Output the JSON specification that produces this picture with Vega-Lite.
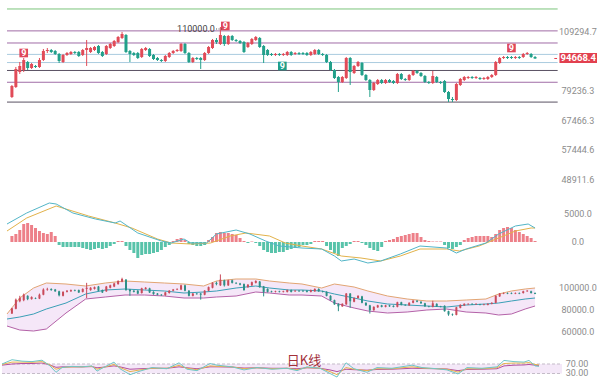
{
"$schema": "https://vega.github.io/schema/vega-lite/v6.json",
"background": "#ffffff",
"padding": 0,
"spacing": 0,
"config": {
  "view": {"stroke": null},
  "concat": {"spacing": 0},
  "axis": {"domain": false, "ticks": false, "gridColor": "#f1f1f1"},
  "axisX": {"minExtent": 0, "maxExtent": 0}
},
"datasets": {
  "k": [
{"i":0,"o":76797,"c":81527,"h":81971,"l":76380,"m":1080},
{"i":1,"o":81085,"c":89418,"h":90395,"l":80646,"m":1440},
{"i":2,"o":87972,"c":90888,"h":92885,"l":87021,"m":2160},
{"i":3,"o":88933,"c":93900,"h":94926,"l":87972,"m":3240},
{"i":4,"o":92885,"c":89905,"h":93391,"l":88933,"m":3420},
{"i":5,"o":89905,"c":91881,"h":92381,"l":89418,"m":3060},
{"i":6,"o":90888,"c":90395,"h":91383,"l":89905,"m":2520},
{"i":7,"o":90395,"c":93900,"h":94926,"l":89905,"m":1980},
{"i":8,"o":93900,"c":98607,"h":99684,"l":93391,"m":1620},
{"i":9,"o":98607,"c":99144,"h":100227,"l":97541,"m":1440},
{"i":10,"o":99144,"c":98072,"h":99684,"l":97541,"m":1800},
{"i":11,"o":98607,"c":97012,"h":99144,"l":96486,"m":1080},
{"i":12,"o":97012,"c":93391,"h":97541,"l":92381,"m":-540},
{"i":13,"o":92885,"c":96486,"h":97012,"l":92381,"m":-900},
{"i":14,"o":96486,"c":97541,"h":98072,"l":95963,"m":-900},
{"i":15,"o":97012,"c":98072,"h":98607,"l":96486,"m":-900},
{"i":16,"o":98072,"c":97541,"h":98607,"l":97012,"m":-900},
{"i":17,"o":98072,"c":95963,"h":98607,"l":95443,"m":-900},
{"i":18,"o":96486,"c":99144,"h":99684,"l":95963,"m":-1080},
{"i":19,"o":99144,"c":100227,"h":104681,"l":90888,"m":-1260},
{"i":20,"o":98072,"c":100227,"h":100774,"l":97541,"m":-1440},
{"i":21,"o":99144,"c":100774,"h":101323,"l":98607,"m":-1260},
{"i":22,"o":101323,"c":97541,"h":101875,"l":97012,"m":-1080},
{"i":23,"o":98072,"c":95963,"h":98607,"l":95443,"m":-1260},
{"i":24,"o":97012,"c":101323,"h":101875,"l":96486,"m":-1080},
{"i":25,"o":100227,"c":102430,"h":102988,"l":99684,"m":-720},
{"i":26,"o":101323,"c":104114,"h":104681,"l":100774,"m":-360},
{"i":27,"o":103549,"c":106401,"h":106981,"l":102988,"m":180},
{"i":28,"o":105825,"c":108150,"h":109332,"l":105251,"m":180},
{"i":29,"o":107564,"c":98072,"h":108150,"l":97541,"m":-720},
{"i":30,"o":98607,"c":97012,"h":99144,"l":92885,"m":-1440},
{"i":31,"o":97541,"c":96486,"h":98072,"l":95963,"m":-1980},
{"i":32,"o":97541,"c":94926,"h":98072,"l":94411,"m":-2880},
{"i":33,"o":95443,"c":99684,"h":100227,"l":94926,"m":-2340},
{"i":34,"o":99144,"c":100227,"h":100774,"l":98607,"m":-2160},
{"i":35,"o":99684,"c":95963,"h":100227,"l":95443,"m":-2160},
{"i":36,"o":96486,"c":94411,"h":97012,"l":93900,"m":-1980},
{"i":37,"o":94926,"c":93900,"h":95443,"l":93391,"m":-1800},
{"i":38,"o":93900,"c":93391,"h":94411,"l":92885,"m":-1440},
{"i":39,"o":93391,"c":95963,"h":96486,"l":92885,"m":-900},
{"i":40,"o":95443,"c":97541,"h":98072,"l":94926,"m":-540},
{"i":41,"o":97541,"c":98607,"h":99144,"l":97012,"m":180},
{"i":42,"o":98607,"c":99144,"h":99684,"l":98072,"m":540},
{"i":43,"o":98607,"c":102430,"h":102988,"l":98072,"m":720},
{"i":44,"o":102430,"c":97541,"h":102988,"l":97012,"m":360},
{"i":45,"o":97541,"c":92885,"h":98072,"l":92381,"m":-360},
{"i":46,"o":92885,"c":94926,"h":95443,"l":92381,"m":-540},
{"i":47,"o":94926,"c":94411,"h":95443,"l":93900,"m":-720},
{"i":48,"o":94926,"c":93900,"h":95443,"l":89418,"m":-720},
{"i":49,"o":93900,"c":97541,"h":98072,"l":93391,"m":-540},
{"i":50,"o":97541,"c":100774,"h":101323,"l":97012,"m":360},
{"i":51,"o":100227,"c":104681,"h":105251,"l":99684,"m":900},
{"i":52,"o":104681,"c":103549,"h":105825,"l":102430,"m":1620},
{"i":53,"o":102430,"c":107564,"h":112344,"l":101875,"m":1800},
{"i":54,"o":106981,"c":102430,"h":107564,"l":101323,"m":1620},
{"i":55,"o":102430,"c":106981,"h":107564,"l":101875,"m":1620},
{"i":56,"o":106981,"c":104681,"h":107564,"l":104114,"m":1440},
{"i":57,"o":104681,"c":104114,"h":105251,"l":103549,"m":1260},
{"i":58,"o":104114,"c":102988,"h":104681,"l":102430,"m":720},
{"i":59,"o":103549,"c":98072,"h":104114,"l":97541,"m":180},
{"i":60,"o":100774,"c":102988,"h":103549,"l":100227,"m":-180},
{"i":61,"o":102430,"c":105251,"h":105825,"l":101875,"m":90},
{"i":62,"o":104681,"c":106401,"h":106981,"l":104114,"m":-180},
{"i":63,"o":105825,"c":100774,"h":106401,"l":100227,"m":-720},
{"i":64,"o":101323,"c":96486,"h":101875,"l":92381,"m":-1440},
{"i":65,"o":99144,"c":96486,"h":99684,"l":95963,"m":-1800},
{"i":66,"o":97012,"c":96486,"h":97541,"l":95963,"m":-1980},
{"i":67,"o":96486,"c":97012,"h":97541,"l":95963,"m":-1980},
{"i":68,"o":97012,"c":96486,"h":97541,"l":95963,"m":-1800},
{"i":69,"o":96486,"c":97012,"h":97541,"l":95963,"m":-1800},
{"i":70,"o":96486,"c":98072,"h":98607,"l":95963,"m":-1440},
{"i":71,"o":98072,"c":96486,"h":98607,"l":95963,"m":-1260},
{"i":72,"o":97012,"c":97541,"h":98072,"l":96486,"m":-1080},
{"i":73,"o":97541,"c":97012,"h":98072,"l":96486,"m":-900},
{"i":74,"o":97541,"c":97012,"h":98072,"l":96486,"m":-540},
{"i":75,"o":97541,"c":96486,"h":98072,"l":95963,"m":-540},
{"i":76,"o":96486,"c":98072,"h":98607,"l":95963,"m":-360},
{"i":77,"o":97012,"c":99144,"h":99684,"l":96486,"m":180},
{"i":78,"o":99144,"c":97012,"h":99684,"l":96486,"m":180},
{"i":79,"o":97012,"c":96486,"h":97541,"l":95963,"m":180},
{"i":80,"o":96486,"c":92885,"h":97012,"l":92381,"m":-720},
{"i":81,"o":92885,"c":88933,"h":93391,"l":88451,"m":-1440},
{"i":82,"o":88933,"c":85150,"h":89418,"l":84688,"m":-1980},
{"i":83,"o":85614,"c":83319,"h":86080,"l":78912,"m":-2520},
{"i":84,"o":83319,"c":85614,"h":86080,"l":82867,"m":-1080},
{"i":85,"o":85150,"c":94926,"h":95443,"l":84688,"m":-720},
{"i":86,"o":94926,"c":87972,"h":95443,"l":81971,"m":-360},
{"i":87,"o":87495,"c":90888,"h":91383,"l":87021,"m":180},
{"i":88,"o":90888,"c":92885,"h":93391,"l":90395,"m":180},
{"i":89,"o":92381,"c":86549,"h":92885,"l":86080,"m":-180},
{"i":90,"o":86549,"c":84229,"h":87021,"l":83773,"m":-540},
{"i":91,"o":84229,"c":79774,"h":84688,"l":76797,"m":-1080},
{"i":92,"o":79774,"c":82867,"h":83319,"l":79342,"m":-1440},
{"i":93,"o":82418,"c":84229,"h":84688,"l":81971,"m":-1620},
{"i":94,"o":84229,"c":82867,"h":84688,"l":82418,"m":-900},
{"i":95,"o":82867,"c":84229,"h":84688,"l":82418,"m":180},
{"i":96,"o":84229,"c":83319,"h":84688,"l":82867,"m":360},
{"i":97,"o":83773,"c":82867,"h":84229,"l":82418,"m":540},
{"i":98,"o":82867,"c":87021,"h":87495,"l":82418,"m":900},
{"i":99,"o":87021,"c":84688,"h":87495,"l":84229,"m":1080},
{"i":100,"o":84688,"c":84229,"h":85150,"l":83773,"m":1260},
{"i":101,"o":84229,"c":86549,"h":87021,"l":83773,"m":1440},
{"i":102,"o":86549,"c":88451,"h":88933,"l":86080,"m":1620},
{"i":103,"o":88451,"c":87495,"h":88933,"l":87021,"m":1620},
{"i":104,"o":87495,"c":86080,"h":87972,"l":85614,"m":900},
{"i":105,"o":86080,"c":83319,"h":86549,"l":82867,"m":360},
{"i":106,"o":83319,"c":82867,"h":83773,"l":82418,"m":180},
{"i":107,"o":82867,"c":86080,"h":88451,"l":82418,"m":90},
{"i":108,"o":85614,"c":83319,"h":86080,"l":82867,"m":90},
{"i":109,"o":83319,"c":82867,"h":83773,"l":82418,"m":90},
{"i":110,"o":83773,"c":78912,"h":84229,"l":78484,"m":-540},
{"i":111,"o":78912,"c":75966,"h":79342,"l":74738,"m":-1080},
{"i":112,"o":75966,"c":75555,"h":76797,"l":74738,"m":-1260},
{"i":113,"o":75555,"c":82418,"h":82867,"l":75145,"m":-900},
{"i":114,"o":81971,"c":84688,"h":85150,"l":81527,"m":-540},
{"i":115,"o":84229,"c":85614,"h":86080,"l":83773,"m":360},
{"i":116,"o":85150,"c":85614,"h":86080,"l":84688,"m":720},
{"i":117,"o":85614,"c":85150,"h":86080,"l":84688,"m":900},
{"i":118,"o":85150,"c":85614,"h":86080,"l":84688,"m":1080},
{"i":119,"o":85150,"c":84688,"h":85614,"l":84229,"m":1080},
{"i":120,"o":84688,"c":85150,"h":85614,"l":84229,"m":1080},
{"i":121,"o":84688,"c":85614,"h":86080,"l":84229,"m":1080},
{"i":122,"o":85614,"c":86549,"h":87021,"l":85150,"m":900},
{"i":123,"o":86549,"c":92885,"h":93391,"l":86080,"m":1440},
{"i":124,"o":92381,"c":94926,"h":95443,"l":91881,"m":2160},
{"i":125,"o":94926,"c":95443,"h":95963,"l":94411,"m":2520},
{"i":126,"o":95443,"c":94926,"h":95963,"l":94411,"m":2700},
{"i":127,"o":95443,"c":94926,"h":95963,"l":94411,"m":2520},
{"i":128,"o":94926,"c":95443,"h":95963,"l":94411,"m":2160},
{"i":129,"o":95443,"c":94926,"h":95963,"l":94411,"m":1800},
{"i":130,"o":95443,"c":97012,"h":97541,"l":94926,"m":1440},
{"i":131,"o":97012,"c":97541,"h":98072,"l":96486,"m":1080},
{"i":132,"o":97012,"c":95443,"h":97541,"l":94926,"m":720},
{"i":133,"o":95443,"c":94668.4,"h":95963,"l":94411,"m":180}
  ],
  "lv": [
{"p":123900,"n":"L1"},{"p":110000,"n":"L2"},{"p":102988,"n":"L3"},{"p":96800,"n":"L4"},
{"p":92600,"n":"L5"},{"p":88700,"n":"L6"},{"p":83200,"n":"L7"},{"p":74700,"n":"L8"}
  ],
  "td": [
{"i":3,"p":97541,"t":"r"},{"i":54.25,"p":112956,"t":"r"},{"i":68.75,"p":90888,"t":"g"},{"i":127,"p":100227,"t":"r"}
  ],
  "ml": [
{"i":-1.25,"v":3240,"s":"DIF"},{"i":3.75,"v":5220,"s":"DIF"},{"i":9.5,"v":7020,"s":"DIF"},{"i":11.25,"v":6840,"s":"DIF"},
{"i":15.5,"v":5220,"s":"DIF"},{"i":21.25,"v":4140,"s":"DIF"},{"i":26.25,"v":3420,"s":"DIF"},{"i":27.5,"v":3780,"s":"DIF"},
{"i":32,"v":1620,"s":"DIF"},{"i":38,"v":180,"s":"DIF"},{"i":40.5,"v":-180,"s":"DIF"},{"i":43.75,"v":540,"s":"DIF"},
{"i":45.5,"v":-180,"s":"DIF"},{"i":49.5,"v":-180,"s":"DIF"},{"i":52,"v":1440,"s":"DIF"},{"i":57,"v":2160,"s":"DIF"},
{"i":60.5,"v":1440,"s":"DIF"},{"i":64.5,"v":180,"s":"DIF"},{"i":68,"v":-720,"s":"DIF"},{"i":73.75,"v":-1080,"s":"DIF"},
{"i":78.75,"v":-1260,"s":"DIF"},{"i":82,"v":-2520,"s":"DIF"},{"i":83.75,"v":-3420,"s":"DIF"},{"i":87,"v":-3060,"s":"DIF"},
{"i":90.5,"v":-3780,"s":"DIF"},{"i":93.75,"v":-3420,"s":"DIF"},{"i":98.75,"v":-2160,"s":"DIF"},{"i":103.75,"v":-720,"s":"DIF"},
{"i":110.5,"v":-1080,"s":"DIF"},{"i":113,"v":-1980,"s":"DIF"},{"i":115.5,"v":-1260,"s":"DIF"},{"i":120.5,"v":-180,"s":"DIF"},
{"i":123.75,"v":1440,"s":"DIF"},{"i":128,"v":2880,"s":"DIF"},{"i":131.25,"v":3240,"s":"DIF"},{"i":133,"v":2520,"s":"DIF"},
{"i":-1.25,"v":1980,"s":"DEA"},{"i":3.75,"v":4320,"s":"DEA"},{"i":11.25,"v":6480,"s":"DEA"},{"i":19.5,"v":4680,"s":"DEA"},
{"i":26.25,"v":3420,"s":"DEA"},{"i":30.5,"v":2520,"s":"DEA"},{"i":37,"v":540,"s":"DEA"},{"i":40.5,"v":-180,"s":"DEA"},
{"i":45.5,"v":-360,"s":"DEA"},{"i":50.5,"v":-180,"s":"DEA"},{"i":55.5,"v":1080,"s":"DEA"},{"i":59.5,"v":1620,"s":"DEA"},
{"i":65.5,"v":1080,"s":"DEA"},{"i":69.5,"v":-180,"s":"DEA"},{"i":73.75,"v":-720,"s":"DEA"},{"i":78.75,"v":-1260,"s":"DEA"},
{"i":83.75,"v":-2520,"s":"DEA"},{"i":88.75,"v":-2880,"s":"DEA"},{"i":93.75,"v":-3420,"s":"DEA"},{"i":98.75,"v":-2520,"s":"DEA"},
{"i":103.75,"v":-1260,"s":"DEA"},{"i":110.5,"v":-1260,"s":"DEA"},{"i":113.75,"v":-1620,"s":"DEA"},{"i":118.75,"v":-720,"s":"DEA"},
{"i":123.75,"v":720,"s":"DEA"},{"i":128,"v":1980,"s":"DEA"},{"i":132,"v":2520,"s":"DEA"},{"i":133,"v":2520,"s":"DEA"}
  ],
  "bb": [
{"i":-1.25,"up":76364,"mid":71818,"lo":65455},
{"i":2,"up":90909,"mid":73636,"lo":61818},
{"i":5.5,"up":100000,"mid":76364,"lo":60909},
{"i":8.75,"up":104545,"mid":80909,"lo":62727},
{"i":13.75,"up":103636,"mid":86364,"lo":77273},
{"i":18.75,"up":101818,"mid":94545,"lo":90000},
{"i":23.75,"up":104545,"mid":98182,"lo":91818},
{"i":28.75,"up":106364,"mid":99091,"lo":93636},
{"i":33.75,"up":105455,"mid":98182,"lo":93636},
{"i":38.75,"up":104545,"mid":97273,"lo":92727},
{"i":43.75,"up":103636,"mid":95455,"lo":90909},
{"i":48.75,"up":101818,"mid":96364,"lo":90909},
{"i":52,"up":106364,"mid":97273,"lo":91818},
{"i":57,"up":108182,"mid":100000,"lo":92727},
{"i":62,"up":108182,"mid":101818,"lo":96364},
{"i":65.5,"up":106364,"mid":100000,"lo":95455},
{"i":70.5,"up":104545,"mid":98182,"lo":93636},
{"i":73.75,"up":103636,"mid":98182,"lo":93636},
{"i":78.75,"up":100000,"mid":97273,"lo":92727},
{"i":82,"up":103636,"mid":94545,"lo":86364},
{"i":87,"up":100909,"mid":90909,"lo":81818},
{"i":90.5,"up":97273,"mid":88182,"lo":79091},
{"i":95.5,"up":92727,"mid":85455,"lo":77273},
{"i":100.5,"up":90000,"mid":84545,"lo":78182},
{"i":105.5,"up":88182,"mid":83636,"lo":80000},
{"i":110.5,"up":88182,"mid":82727,"lo":80909},
{"i":115.5,"up":89091,"mid":84545,"lo":78182},
{"i":120.5,"up":90000,"mid":85455,"lo":77273},
{"i":123.75,"up":94545,"mid":86364,"lo":75455},
{"i":127,"up":97273,"mid":88182,"lo":76364},
{"i":130.5,"up":99091,"mid":90000,"lo":80909},
{"i":133,"up":100000,"mid":90909,"lo":83636}
  ],
  "rsi": [
{"i":-1.25,"a":70,"b":68,"c":65},{"i":1.25,"a":88,"b":78,"c":70},{"i":3.75,"a":82,"b":78,"c":72},{"i":6.25,"a":80,"b":77,"c":72},
{"i":8.75,"a":86,"b":80,"c":74},{"i":10.75,"a":62,"b":66,"c":66},{"i":12.25,"a":35,"b":48,"c":56},{"i":13.75,"a":55,"b":55,"c":58},
{"i":16.25,"a":60,"b":58,"c":58},{"i":18.75,"a":58,"b":58,"c":58},{"i":21.25,"a":62,"b":60,"c":59},{"i":22.5,"a":40,"b":48,"c":54},
{"i":23.75,"a":52,"b":54,"c":56},{"i":26.75,"a":78,"b":68,"c":62},{"i":28.25,"a":50,"b":55,"c":58},{"i":30.75,"a":25,"b":38,"c":48},
{"i":33.25,"a":40,"b":45,"c":50},{"i":36.25,"a":55,"b":52,"c":52},{"i":40,"a":50,"b":52,"c":52},{"i":43,"a":75,"b":64,"c":58},
{"i":45,"a":48,"b":52,"c":54},{"i":47.5,"a":42,"b":46,"c":50},{"i":50.75,"a":72,"b":62,"c":58},{"i":52.5,"a":65,"b":60,"c":58},
{"i":56.25,"a":58,"b":58,"c":57},{"i":59.25,"a":45,"b":50,"c":53},{"i":62.5,"a":55,"b":54,"c":54},{"i":66.25,"a":48,"b":50,"c":52},
{"i":70,"a":52,"b":52,"c":52},{"i":72.5,"a":42,"b":46,"c":50},{"i":75,"a":58,"b":55,"c":54},{"i":78.25,"a":52,"b":52,"c":52},
{"i":80.75,"a":30,"b":38,"c":45},{"i":82.5,"a":15,"b":25,"c":38},{"i":84.75,"a":75,"b":55,"c":48},{"i":86.75,"a":50,"b":48,"c":46},
{"i":90,"a":35,"b":42,"c":44},{"i":92.5,"a":55,"b":50,"c":47},{"i":96.25,"a":52,"b":50,"c":48},{"i":101.25,"a":65,"b":58,"c":52},
{"i":103.75,"a":55,"b":53,"c":51},{"i":107.5,"a":50,"b":50,"c":50},{"i":110,"a":45,"b":48,"c":49},{"i":112.75,"a":28,"b":36,"c":42},
{"i":115,"a":55,"b":50,"c":47},{"i":118.75,"a":52,"b":50,"c":48},{"i":122.5,"a":58,"b":54,"c":50},{"i":124.25,"a":85,"b":72,"c":62},
{"i":126.75,"a":80,"b":74,"c":65},{"i":129.25,"a":78,"b":74,"c":66},{"i":130.5,"a":85,"b":76,"c":68},{"i":132,"a":62,"b":68,"c":65},
{"i":133,"a":60,"b":66,"c":64}
  ],
  "tk1": [{"v": 48911.6}, {"v": 57444.6}, {"v": 67466.3}, {"v": 79236.3}, {"v": 109294.7}],
  "tk2": [{"v": 0}, {"v": 5000}],
  "tk3": [{"v": 60000}, {"v": 80000}, {"v": 100000}],
  "tk4": [{"v": 30}, {"v": 70}],
  "one": [{"t": "x"}]
},
"vconcat": [
{
  "width": 600, "height": 185,
  "layer": [
    {"data": {"name": "lv"}, "mark": {"type": "rule", "strokeWidth": 1},
     "encoding": {
       "x": {"datum": -1.25, "type": "quantitative", "scale": {"domain": [-1.25, 148.75], "nice": false, "zero": false},
             "axis": {"values": [15.75, 39.25, 62.5, 83.75, 107, 130.5], "labels": false, "grid": true, "orient": "bottom", "title": null}},
       "x2": {"datum": 138.75},
       "y": {"field": "p", "type": "quantitative", "scale": {"type": "log", "domain": [47601, 130100], "nice": false, "zero": false}, "axis": null},
       "color": {"condition": [
           {"test": "datum.n == 'L1'", "value": "#7cc47c"},
           {"test": "datum.n == 'L4' || datum.n == 'L5'", "value": "#a9cbdf"},
           {"test": "datum.n == 'L6' || datum.n == 'L8'", "value": "#5a5263"}
         ], "value": "#a06ca6"}
     }},
    {"data": {"name": "tk1"},
     "mark": {"type": "text", "font": "Roboto", "fontSize": 9, "color": "#8c8c8c", "align": "center", "baseline": "middle"},
     "encoding": {
       "x": {"datum": 143.9, "type": "quantitative"},
       "y": {"field": "v", "type": "quantitative", "axis": null},
       "text": {"field": "v", "type": "quantitative", "format": ".1f"}
     }},
    {"data": {"name": "k"}, "mark": {"type": "rule", "strokeWidth": 1},
     "encoding": {
       "x": {"field": "i", "type": "quantitative", "axis": null},
       "y": {"field": "l", "type": "quantitative", "axis": null},
       "y2": {"field": "h"},
       "color": {"condition": {"test": "datum.c >= datum.o", "value": "#e14b58"}, "value": "#22a08a"}
     }},
    {"data": {"name": "k"}, "mark": {"type": "bar", "size": 3},
     "encoding": {
       "x": {"field": "i", "type": "quantitative", "axis": null},
       "y": {"field": "o", "type": "quantitative", "axis": null},
       "y2": {"field": "c"},
       "color": {"condition": {"test": "datum.c >= datum.o", "value": "#e14b58"}, "value": "#22a08a"}
     }},
    {"data": {"name": "td"}, "mark": {"type": "point", "shape": "square", "filled": true, "size": 75, "opacity": 1},
     "encoding": {
       "x": {"field": "i", "type": "quantitative", "axis": null},
       "y": {"field": "p", "type": "quantitative", "axis": null},
       "color": {"condition": {"test": "datum.t == 'r'", "value": "#e0475a"}, "value": "#1f9e89"}
     }},
    {"data": {"name": "td"}, "mark": {"type": "text", "color": "#ffffff", "fontSize": 9, "fontWeight": "bold", "font": "Roboto", "baseline": "middle"},
     "encoding": {
       "x": {"field": "i", "type": "quantitative", "axis": null},
       "y": {"field": "p", "type": "quantitative", "axis": null},
       "text": {"value": "9"}
     }},
    {"data": {"name": "one"}, "mark": {"type": "text", "align": "right", "baseline": "middle", "fontSize": 9, "font": "Roboto", "color": "#444444"},
     "encoding": {
       "x": {"datum": 51.6, "type": "quantitative"},
       "y": {"datum": 111129, "type": "quantitative"},
       "text": {"value": "110000.0"}
     }},
    {"data": {"name": "one"}, "mark": {"type": "rule", "strokeDash": [1, 1.5], "color": "#555555", "strokeWidth": 1},
     "encoding": {
       "x": {"datum": 51.9, "type": "quantitative"},
       "x2": {"datum": 53.4},
       "y": {"datum": 111129, "type": "quantitative"}
     }},
    {"data": {"name": "one"}, "mark": {"type": "rule", "color": "#e2404f", "strokeWidth": 1},
     "encoding": {
       "x": {"datum": 137.9, "type": "quantitative"},
       "x2": {"datum": 138.6},
       "y": {"datum": 94668.4, "type": "quantitative"}
     }},
    {"data": {"name": "one"}, "mark": {"type": "rect", "color": "#e2404f"},
     "encoding": {
       "x": {"datum": 139.2, "type": "quantitative"},
       "x2": {"datum": 148.75},
       "y": {"datum": 97541, "type": "quantitative"},
       "y2": {"datum": 92381}
     }},
    {"data": {"name": "one"}, "mark": {"type": "text", "color": "#ffffff", "fontSize": 9.5, "fontWeight": "bold", "font": "Roboto", "baseline": "middle", "align": "center"},
     "encoding": {
       "x": {"datum": 144, "type": "quantitative"},
       "y": {"datum": 94668.4, "type": "quantitative"},
       "text": {"value": "94668.4"}
     }}
  ]
},
{
  "width": 600, "height": 80,
  "layer": [
    {"data": {"name": "k"}, "mark": {"type": "bar", "size": 3, "opacity": 0.85},
     "encoding": {
       "x": {"field": "i", "type": "quantitative", "scale": {"domain": [-1.25, 148.75], "nice": false, "zero": false},
             "axis": {"values": [15.75, 39.25, 62.5, 83.75, 107, 130.5], "labels": false, "grid": true, "orient": "bottom", "title": null}},
       "y": {"field": "m", "type": "quantitative", "scale": {"domain": [-4320, 10080], "nice": false, "zero": false}, "axis": null},
       "y2": {"datum": 0},
       "color": {"condition": {"test": "datum.m >= 0", "value": "#ea6a74"}, "value": "#3bb99b"}
     }},
    {"data": {"name": "tk2"},
     "mark": {"type": "text", "font": "Roboto", "fontSize": 9, "color": "#8c8c8c", "align": "center", "baseline": "middle"},
     "encoding": {
       "x": {"datum": 143.9, "type": "quantitative"},
       "y": {"field": "v", "type": "quantitative", "axis": null},
       "text": {"field": "v", "type": "quantitative", "format": ".1f"}
     }},
    {"data": {"name": "ml"}, "transform": [{"filter": "datum.s == 'DEA'"}], "mark": {"type": "line", "strokeWidth": 1, "color": "#e2b24a"},
     "encoding": {
       "x": {"field": "i", "type": "quantitative", "axis": null},
       "y": {"field": "v", "type": "quantitative", "axis": null}
     }},
    {"data": {"name": "ml"}, "transform": [{"filter": "datum.s == 'DIF'"}], "mark": {"type": "line", "strokeWidth": 1, "color": "#52b5c7"},
     "encoding": {
       "x": {"field": "i", "type": "quantitative", "axis": null},
       "y": {"field": "v", "type": "quantitative", "axis": null}
     }}
  ]
},
{
  "width": 600, "height": 80,
  "layer": [
    {"data": {"name": "bb"}, "mark": {"type": "area", "color": "#f5e7f8"},
     "encoding": {
       "x": {"field": "i", "type": "quantitative", "scale": {"domain": [-1.25, 148.75], "nice": false, "zero": false},
             "axis": {"values": [15.75, 39.25, 62.5, 83.75, 107, 130.5], "labels": false, "grid": true, "orient": "bottom", "title": null}},
       "y": {"field": "up", "type": "quantitative", "scale": {"domain": [47273, 120000], "nice": false, "zero": false}, "axis": null},
       "y2": {"field": "lo"}
     }},
    {"data": {"name": "tk3"},
     "mark": {"type": "text", "font": "Roboto", "fontSize": 9, "color": "#8c8c8c", "align": "center", "baseline": "middle"},
     "encoding": {
       "x": {"datum": 143.9, "type": "quantitative"},
       "y": {"field": "v", "type": "quantitative", "axis": null},
       "text": {"field": "v", "type": "quantitative", "format": ".1f"}
     }},
    {"data": {"name": "bb"}, "mark": {"type": "line", "strokeWidth": 1, "color": "#e2a573"},
     "encoding": {"x": {"field": "i", "type": "quantitative", "axis": null}, "y": {"field": "up", "type": "quantitative", "axis": null}}},
    {"data": {"name": "bb"}, "mark": {"type": "line", "strokeWidth": 1, "color": "#3a9fb6"},
     "encoding": {"x": {"field": "i", "type": "quantitative", "axis": null}, "y": {"field": "mid", "type": "quantitative", "axis": null}}},
    {"data": {"name": "bb"}, "mark": {"type": "line", "strokeWidth": 1, "color": "#b462a8"},
     "encoding": {"x": {"field": "i", "type": "quantitative", "axis": null}, "y": {"field": "lo", "type": "quantitative", "axis": null}}},
    {"data": {"name": "k"}, "mark": {"type": "rule", "strokeWidth": 1},
     "encoding": {
       "x": {"field": "i", "type": "quantitative", "axis": null},
       "y": {"field": "l", "type": "quantitative", "axis": null},
       "y2": {"field": "h"},
       "color": {"condition": {"test": "datum.c >= datum.o", "value": "#c94a5a"}, "value": "#2c8f86"}
     }},
    {"data": {"name": "k"}, "mark": {"type": "bar", "size": 2},
     "encoding": {
       "x": {"field": "i", "type": "quantitative", "axis": null},
       "y": {"field": "o", "type": "quantitative", "axis": null},
       "y2": {"field": "c"},
       "color": {"condition": {"test": "datum.c >= datum.o", "value": "#c94a5a"}, "value": "#2c8f86"}
     }}
  ]
},
{
  "width": 600, "height": 33,
  "layer": [
    {"data": {"name": "one"}, "mark": {"type": "rect", "color": "#f4e8f8"},
     "encoding": {
       "x": {"datum": -1.25, "type": "quantitative", "scale": {"domain": [-1.25, 148.75], "nice": false, "zero": false},
             "axis": {"values": [15.75, 39.25, 62.5, 83.75, 107, 130.5], "labels": false, "grid": true, "orient": "bottom", "title": null}},
       "x2": {"datum": 138.75},
       "y": {"datum": 30, "type": "quantitative", "scale": {"domain": [6.8, 145.8], "nice": false, "zero": false}, "axis": null},
       "y2": {"datum": 70}
     }},
    {"data": {"name": "tk4"}, "mark": {"type": "rule", "strokeDash": [3, 2], "color": "#c4bcc8", "strokeWidth": 1},
     "encoding": {
       "x": {"datum": -1.25, "type": "quantitative"},
       "x2": {"datum": 138.75},
       "y": {"field": "v", "type": "quantitative", "axis": null}
     }},
    {"data": {"name": "tk4"},
     "mark": {"type": "text", "font": "Roboto", "fontSize": 9, "color": "#8c8c8c", "align": "center", "baseline": "middle"},
     "encoding": {
       "x": {"datum": 142.5, "type": "quantitative"},
       "y": {"field": "v", "type": "quantitative", "axis": null},
       "text": {"field": "v", "type": "quantitative", "format": ".2f"}
     }},
    {"data": {"name": "rsi"}, "mark": {"type": "line", "strokeWidth": 1, "color": "#b24f9f"},
     "encoding": {"x": {"field": "i", "type": "quantitative", "axis": null}, "y": {"field": "c", "type": "quantitative", "axis": null}}},
    {"data": {"name": "rsi"}, "mark": {"type": "line", "strokeWidth": 1, "color": "#e6b24e"},
     "encoding": {"x": {"field": "i", "type": "quantitative", "axis": null}, "y": {"field": "b", "type": "quantitative", "axis": null}}},
    {"data": {"name": "rsi"}, "mark": {"type": "line", "strokeWidth": 1, "color": "#6fc6c7"},
     "encoding": {"x": {"field": "i", "type": "quantitative", "axis": null}, "y": {"field": "a", "type": "quantitative", "axis": null}}},
    {"data": {"name": "one"}, "mark": {"type": "text", "fontSize": 13, "font": "Noto Sans CJK SC", "color": "#a3303a", "baseline": "middle"},
     "encoding": {
       "x": {"datum": 74.25, "type": "quantitative"},
       "y": {"datum": 82.6, "type": "quantitative"},
       "text": {"value": "日K线"}
     }}
  ]
}
]
}
